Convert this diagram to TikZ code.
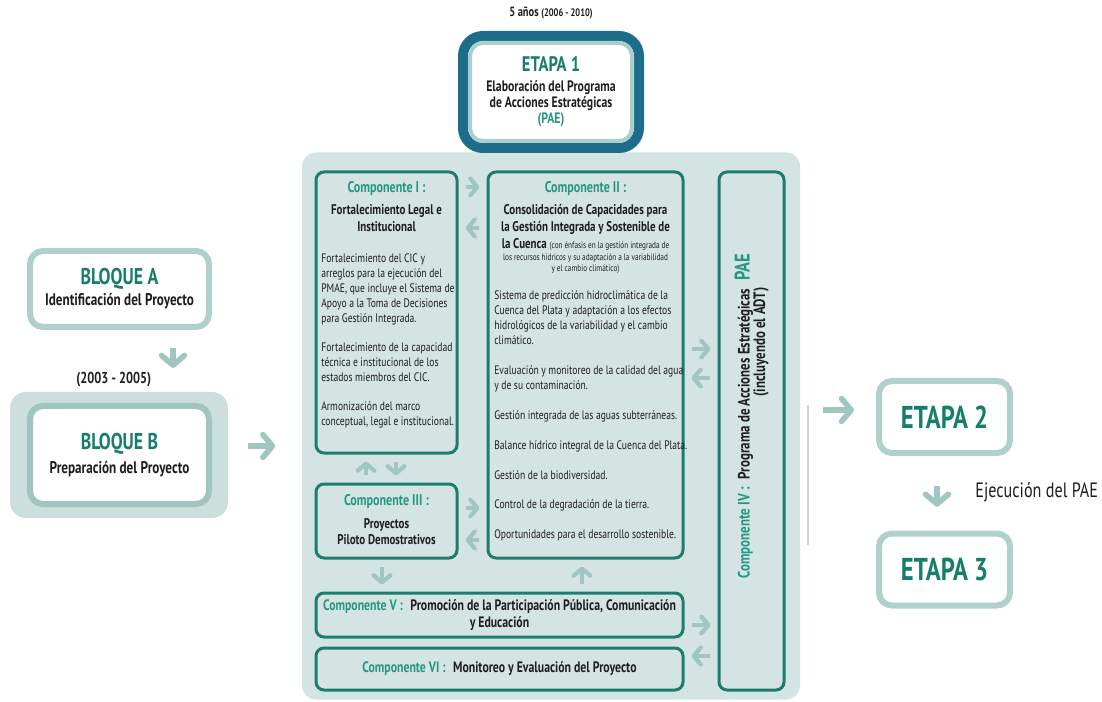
\documentclass[tikz,border=0pt]{standalone}
\usepackage{fontspec}
\setmainfont{PT Sans}[FakeStretch=0.78]
\usetikzlibrary{positioning,arrows.meta}

\definecolor{tealtxt}{RGB}{38,150,130}
\definecolor{tealosc}{RGB}{22,126,106}
\definecolor{borde}{RGB}{30,124,108}
\definecolor{azul}{RGB}{28,108,138}
\definecolor{celeste}{RGB}{170,208,206}
\definecolor{fondo}{RGB}{212,228,226}
\definecolor{flechacol}{RGB}{160,198,195}
\definecolor{halo}{RGB}{204,223,220}
\definecolor{bloquecol}{RGB}{176,208,204}
\definecolor{bloqueBcol}{RGB}{160,197,192}
\definecolor{texto}{RGB}{30,30,30}

\newcommand{\pxl}{0.02cm}
\newcommand{\cuerpo}{\fontsize{7}{8.6}\selectfont}

\begin{document}
\begin{tikzpicture}[x=0.02cm,y=-0.02cm,text=texto]

 \tikzset{
    panel/.style={fill=fondo, rounded corners=14*\pxl, inner sep=0pt},
    comp/.style={draw=borde, line width=3*\pxl, rounded corners=8*\pxl, inner sep=0pt},
    bloque/.style={draw=bloquecol, line width=6*\pxl, fill=white, rounded corners=13*\pxl,
      align=center, font=\bfseries\fontsize{9.6}{11}\selectfont},
    etapa/.style={bloque, minimum width=131*\pxl, minimum height=72*\pxl,
      text=tealosc, font=\bfseries\fontsize{18}{20}\selectfont},
    titulo/.style={align=center, inner sep=0pt, font=\bfseries\fontsize{8}{9.6}\selectfont},
    cuerpo/.style={align=left, anchor=north west, inner sep=0pt, font=\cuerpo},
    flecha/.style={draw=flechacol, line width=2.4pt,
      -{Straight Barb[round,length=4pt,width=9.5pt]}, shorten >=4pt, shorten <=4pt},
    flechag/.style={draw=flechacol, line width=3.2pt,
      -{Straight Barb[round,length=5.5pt,width=13pt]}},
  }

  \useasboundingbox (0,0) rectangle (1102,702);

  % bloques A y B
  \node[bloque, minimum width=179*\pxl, minimum height=76*\pxl] (bloqueA) at (119.5,289)
    {{\color{tealosc}\fontsize{13}{15}\selectfont BLOQUE A}\\[1pt]Identificación del Proyecto};
  \node[fill=halo, rounded corners=16*\pxl, minimum width=218*\pxl, minimum height=126*\pxl,
    inner sep=0pt] (haloB) at (119,455) {};
  \node[bloque, draw=bloqueBcol, minimum width=179*\pxl, minimum height=98*\pxl] (bloqueB) at (119.5,455)
    {{\color{tealosc}\fontsize{13}{15}\selectfont BLOQUE B}\\[3pt]Preparación del Proyecto};
  \node[font=\bfseries\fontsize{9}{10}\selectfont, inner sep=0pt, above=2.5pt of haloB, xshift=-3pt]
    (periodo) {(2003 - 2005)};

  % panel de componentes y etapa 1
  \node[panel, minimum width=498*\pxl, minimum height=547*\pxl] (panel) at (551,426) {};
  \node[draw=azul, line width=10*\pxl, fill=white, rounded corners=20*\pxl, minimum width=176*\pxl,
    minimum height=112*\pxl, align=center, font=\bfseries\fontsize{8.6}{9.2}\selectfont] (etapa1) at (551,92)
    {{\color{tealosc}\fontsize{12}{14}\selectfont ETAPA 1}\\[2pt]Elaboración del Programa\\
     de Acciones Estratégicas\\{\color{tealtxt}(PAE)}};
  \node[draw=celeste, line width=4*\pxl, rounded corners=13*\pxl, minimum width=162*\pxl,
    minimum height=98*\pxl] (etapa1in) at (etapa1.center) {};
  \node[font=\bfseries\fontsize{7.6}{8}\selectfont, inner sep=0pt, above=6.5pt of etapa1]
    (anios) {5 años {\fontsize{6.2}{8}\selectfont(2006 - 2010)}};

  \node[comp, minimum width=141*\pxl, minimum height=281*\pxl] (c1) at (386.5,312.5) {};
  \node[comp, minimum width=195*\pxl, minimum height=386*\pxl] (c2) at (585.5,365) {};
  \node[comp, minimum width=141*\pxl, minimum height=74*\pxl] (c3) at (386.5,521) {};
  \node[comp, minimum width=65*\pxl, minimum height=518*\pxl] (c4) at (751.5,431) {};
  \node[comp, minimum width=367*\pxl, minimum height=44*\pxl] (c5) at (499.5,615) {};
  \node[comp, minimum width=367*\pxl, minimum height=42*\pxl] (c6) at (499.5,669) {};

  % textos de los componentes
  \node[titulo, anchor=north] (c1t) at (386.5,181)
    {{\color{tealtxt}\fontsize{8.8}{9.6}\selectfont Componente I :}\\[3pt]Fortalecimiento Legal e\\Institucional};
  \node[cuerpo] (c1b) at (321,253)
    {Fortalecimiento del CIC y\\arreglos para la ejecución del\\PMAE, que incluye el Sistema de\\
     Apoyo a la  Toma de Decisiones\\para Gestión Integrada.\\[7.7pt]
     Fortalecimiento de la capacidad\\técnica e institucional de los\\estados miembros del CIC.\\[7.7pt]
     Armonización del marco\\conceptual, legal e institucional.};

  \node[titulo, anchor=north] (c2t) at (585.5,181)
    {{\color{tealtxt}\fontsize{8.8}{9.6}\selectfont Componente II :}\\[3pt]Consolidación de Capacidades para\\
     la Gestión Integrada y Sostenible de\\
     la Cuenca {\mdseries\fontsize{5.3}{6}\selectfont (con énfasis en la gestión integrada de}};
  \node[titulo, font=\fontsize{5.3}{6.3}\selectfont, below=1.5pt of c2t] (c2n)
    {los recursos hídricos y su adaptación a la variabilidad\\y el cambio climático)};
  \node[cuerpo] (c2b) at (494,290)
    {Sistema de predicción hidroclimática de la\\Cuenca del Plata y adaptación a los efectos\\
     hidrológicos de la variabilidad y el cambio\\climático.\\[8.4pt]
     Evaluación y  monitoreo de la calidad del agua\\y de su contaminación.\\[8.4pt]
     Gestión integrada de las aguas subterráneas.\\[8.4pt]
     Balance hídrico integral de la Cuenca del Plata.\\[8.4pt]
     Gestión de la biodiversidad.\\[8.4pt]
     Control de la degradación de la tierra.\\[8.4pt]
     Oportunidades para el desarrollo sostenible.};

  \node[titulo] (c3t) at (386.5,520)
    {{\color{tealtxt}\fontsize{8.8}{9.6}\selectfont Componente III :}\\[3pt]Proyectos\\Piloto Demostrativos};
  \node[titulo, font=\bfseries\fontsize{8.6}{10}\selectfont] (c5t) at (c5.center)
    {{\color{tealtxt}Componente V :}\enspace Promoción de la Participación Pública, Comunicación\\y Educación};
  \node[titulo, font=\bfseries\fontsize{8.6}{10}\selectfont] (c6t) at (c6.center)
    {{\color{tealtxt}Componente VI :}\enspace Monitoreo y Evaluación del Proyecto};
  \node[titulo, rotate=90, font=\bfseries\fontsize{9.4}{11}\selectfont] (c4t) at (744,416)
    {{\color{tealtxt}Componente IV :}\enspace Programa de Acciones Estratégicas\enspace
     {\color{tealtxt}\fontsize{12}{14}\selectfont PAE}};
  \node[titulo, rotate=90, font=\bfseries\fontsize{9.4}{11}\selectfont] (c4s) at (761,342) {(incluyendo el ADT)};

  % etapas 2 y 3
  \node[etapa] (etapa2) at (944.5,417) {ETAPA 2};
  \node[etapa] (etapa3) at (944.5,569.5) {ETAPA 3};
  \node[font=\fontsize{11.8}{13}\selectfont, anchor=west, inner sep=0pt] (ejec) at (975,492) {Ejecución del PAE};

  % flechas dentro del panel
  \draw[flecha] (c1.east |- 0,187) -- (c2.west |- 0,187);
  \draw[flecha] (c2.west |- 0,228) -- (c1.east |- 0,228);
  \draw[flecha] (c3.north -| 366,0) -- (c1.south -| 366,0);
  \draw[flecha] (c1.south -| 396,0) -- (c3.north -| 396,0);
  \draw[flecha] (c3.east |- 0,508) -- (c2.west |- 0,508);
  \draw[flecha] (c2.west |- 0,540) -- (c3.east |- 0,540);
  \draw[flecha] (c3.south -| 382,0) -- (c5.north -| 382,0);
  \draw[flecha] (c5.north -| 582,0) -- (c2.south -| 582,0);
  \draw[flecha] (c2.east |- 0,349) -- (c4.west |- 0,349);
  \draw[flecha] (c4.west |- 0,378) -- (c2.east |- 0,378);
  \draw[flecha] (c5.east |- 0,625) -- (c4.west |- 0,625);
  \draw[flecha] (c4.west |- 0,656) -- (c6.east |- 0,656);

  % flechas de afuera
  \draw[flechag, shorten <=10pt, shorten >=13.5pt] (bloqueA.south -| 173,0) -- (haloB.north -| 173,0);
  \draw[flechag, shorten <=11pt, shorten >=15pt] (haloB.east |- 0,446) -- (panel.west |- 0,446);
  \draw[flechag, shorten <=13pt, shorten >=12.5pt] (panel.east |- 0,410) -- (etapa2.west |- 0,410);
  \draw[flechag, shorten <=17pt, shorten >=13.5pt] (etapa2.south -| 937,0) -- (etapa3.north -| 937,0);

  \draw[black!18, line width=0.6pt] (808,405) -- (808,545);

\end{tikzpicture}
\end{document}
